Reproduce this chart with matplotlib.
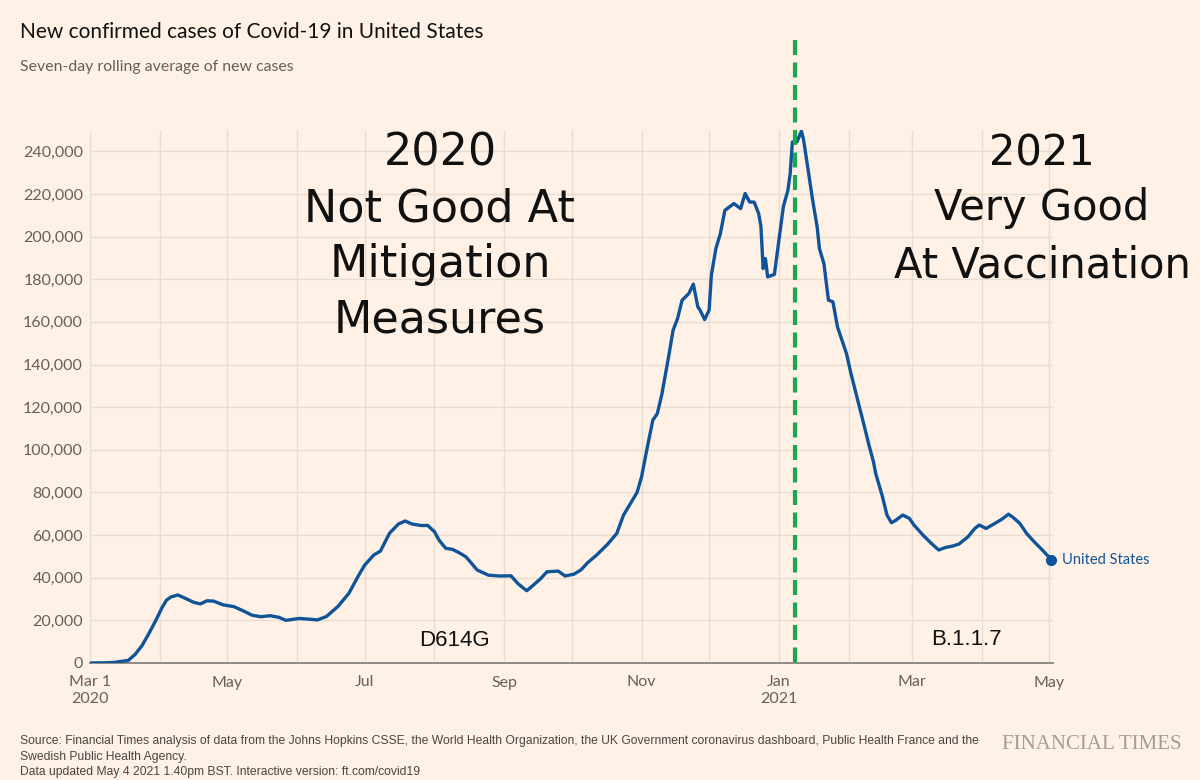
import matplotlib
matplotlib.use('Agg')
import matplotlib.pyplot as plt
import matplotlib.dates as mdates
import matplotlib.ticker as mticker
import pandas as pd

# ---------------- data ----------------
dates = [
    '2020-03-01', '2020-03-08', '2020-03-12', '2020-03-15', '2020-03-18', '2020-03-21',
    '2020-03-24', '2020-03-27', '2020-03-30', '2020-04-02', '2020-04-04', '2020-04-06',
    '2020-04-09', '2020-04-12', '2020-04-16', '2020-04-19', '2020-04-22', '2020-04-25',
    '2020-04-29', '2020-05-04', '2020-05-09', '2020-05-12', '2020-05-16', '2020-05-20',
    '2020-05-24', '2020-05-27', '2020-06-02', '2020-06-07', '2020-06-10', '2020-06-14',
    '2020-06-19', '2020-06-24', '2020-06-28', '2020-07-01', '2020-07-05', '2020-07-08',
    '2020-07-12', '2020-07-16', '2020-07-19', '2020-07-22', '2020-07-26', '2020-07-29',
    '2020-08-01', '2020-08-03', '2020-08-06', '2020-08-09', '2020-08-12', '2020-08-15',
    '2020-08-20', '2020-08-25', '2020-08-30', '2020-09-04', '2020-09-07', '2020-09-11',
    '2020-09-14', '2020-09-17', '2020-09-20', '2020-09-25', '2020-09-28', '2020-10-02',
    '2020-10-05', '2020-10-08', '2020-10-12', '2020-10-17', '2020-10-21', '2020-10-24',
    '2020-10-28', '2020-10-30', '2020-11-01', '2020-11-03', '2020-11-06', '2020-11-08',
    '2020-11-10', '2020-11-13', '2020-11-15', '2020-11-17', '2020-11-19', '2020-11-22',
    '2020-11-24', '2020-11-26', '2020-11-27', '2020-11-29', '2020-12-01', '2020-12-02',
    '2020-12-04', '2020-12-06', '2020-12-08', '2020-12-12', '2020-12-15', '2020-12-17',
    '2020-12-19', '2020-12-21', '2020-12-23', '2020-12-24', '2020-12-25', '2020-12-26',
    '2020-12-27', '2020-12-30', '2021-01-01', '2021-01-03', '2021-01-05', '2021-01-06',
    '2021-01-07', '2021-01-09', '2021-01-11', '2021-01-12', '2021-01-14', '2021-01-16',
    '2021-01-18', '2021-01-19', '2021-01-21', '2021-01-23', '2021-01-25', '2021-01-27',
    '2021-01-31', '2021-02-02', '2021-02-05', '2021-02-08', '2021-02-10', '2021-02-12',
    '2021-02-13', '2021-02-16', '2021-02-18', '2021-02-20', '2021-02-22', '2021-02-25',
    '2021-02-28', '2021-03-02', '2021-03-06', '2021-03-10', '2021-03-13', '2021-03-16',
    '2021-03-19', '2021-03-22', '2021-03-26', '2021-03-29', '2021-03-31', '2021-04-03',
    '2021-04-07', '2021-04-10', '2021-04-13', '2021-04-15', '2021-04-18', '2021-04-21',
    '2021-04-24', '2021-04-28', '2021-05-02',
]
cases = [
    0, 100, 300, 800, 1200, 4000,
    8000, 13500, 19500, 26000, 29500, 31000,
    31900, 30500, 28500, 27700, 29200, 29000,
    27300, 26400, 24000, 22400, 21700, 22200,
    21400, 20000, 20900, 20500, 20200, 21800,
    26400, 32700, 40500, 45900, 50600, 52500,
    60800, 65200, 66600, 65200, 64500, 64500,
    61600, 57700, 53800, 53300, 51700, 49800,
    43600, 41200, 40800, 40900, 37300, 33900,
    36600, 39400, 42800, 43100, 40800, 41700,
    43600, 47000, 50600, 55800, 60800, 69400,
    76500, 80000, 87300, 98300, 113900, 117000,
    126000, 143600, 156100, 161600, 170200, 173300,
    177700, 167000, 165500, 161100, 165500, 181900,
    194400, 201400, 212300, 215500, 213100, 220200,
    216200, 216200, 210800, 205000, 185000, 189700,
    181100, 182300, 198300, 214200, 221700, 229500,
    244400, 244400, 249500, 245200, 231100, 217000,
    204500, 194400, 187300, 170200, 169400, 157700,
    145200, 135800, 123300, 110800, 102200, 94400,
    88900, 78000, 69400, 65800, 67000, 69400,
    67800, 64700, 60000, 55800, 53000, 54200,
    54800, 55800, 59200, 63100, 64700, 63100,
    65500, 67400, 69800, 68300, 65500, 60800,
    57300, 53000, 48500,
]
series_name = 'United States'
marker_date = '2021-01-08'

tick_dates = ['2020-03-01', '2020-05-01', '2020-07-01', '2020-09-01', '2020-11-01',
              '2021-01-01', '2021-03-01', '2021-05-01']
tick_labels = ['Mar 1\n2020', 'May', 'Jul', 'Sep', 'Nov', 'Jan\n2021', 'Mar', 'May']
y_ticks = list(range(0, 240001, 20000))

title = 'New confirmed cases of Covid-19 in United States'
subtitle = 'Seven-day rolling average of new cases'
left_lines = ['2020', 'Not Good At', 'Mitigation', 'Measures']
right_lines = ['2021', 'Very Good', 'At Vaccination']
variant_left = 'D614G'
variant_right = 'B.1.1.7'
footer = ('Source: Financial Times analysis of data from the Johns Hopkins CSSE, the World Health '
          'Organization, the UK Government coronavirus dashboard, Public Health France and the\n'
          'Swedish Public Health Agency.\n'
          'Data updated May 4 2021 1.40pm BST. Interactive version: ft.com/covid19')
brand = 'FINANCIAL TIMES'

# ---------------- style ----------------
BG = '#FFF1E5'
GRID = '#E9DCD0'
TXT_GRAY = '#66605C'
BLUE = '#0F5499'
GREEN = '#1BA650'
W, H = 1200, 780

x = pd.to_datetime(dates)
fig = plt.figure(figsize=(12, 7.8), dpi=100, facecolor=BG)
ax = fig.add_axes([90 / W, 1 - 663 / H, (1053 - 90) / W, (663 - 130) / H])
ax.set_facecolor(BG)

ax.plot(x, cases, color=BLUE, lw=2.4, solid_joinstyle='round', zorder=3)
ax.plot(x[-1:], cases[-1:], 'o', color=BLUE, ms=7, zorder=4, clip_on=False)
ax.annotate(series_name, (x[-1], cases[-1]), xytext=(8, 0), textcoords='offset points',
            va='center', ha='left', color=BLUE, fontsize=10.5, family='Lato',
            annotation_clip=False)

ax.set_xlim(pd.Timestamp('2020-03-01'), pd.Timestamp('2021-05-02 18:00'))
ax.set_ylim(0, 250000)

ax.set_xticks(pd.to_datetime(tick_dates))
ax.set_xticklabels(tick_labels)
ax.xaxis.set_minor_locator(mdates.MonthLocator())
ax.set_yticks(y_ticks)
ax.yaxis.set_major_formatter(mticker.FuncFormatter(lambda v, p: f'{int(v):,}'))

ax.tick_params(axis='both', which='both', length=0, colors=TXT_GRAY, labelsize=11.5)
ax.tick_params(axis='x', pad=9)
ax.tick_params(axis='y', pad=5)
for lab in ax.get_xticklabels() + ax.get_yticklabels():
    lab.set_family('Lato')
    lab.set_color(TXT_GRAY)

ax.grid(True, which='both', axis='x', color=GRID, lw=1)
ax.grid(True, which='major', axis='y', color=GRID, lw=1)
ax.set_axisbelow(True)
for s in ['top', 'right', 'left']:
    ax.spines[s].set_visible(False)
ax.spines['bottom'].set_color('#8F8984')
ax.spines['bottom'].set_linewidth(1.4)

# green dashed marker line, drawn from the top down so the pattern starts with a dash
mdate = pd.Timestamp(marker_date)
ax.plot([mdate, mdate], [1.169, -0.013], transform=ax.get_xaxis_transform(),
        color=GREEN, lw=3, dashes=(3.6, 1.8), dash_capstyle='butt',
        clip_on=False, zorder=5)

# big annotations
def fx(px):
    return px / W

def fy(py):
    return 1 - py / H

for line, base in zip(left_lines, [165, 221, 277, 332]):
    fig.text(fx(440), fy(base), line, ha='center', va='baseline', fontsize=32,
             family='DejaVu Sans', color='#111111')
for line, base in zip(right_lines, [165, 220, 277]):
    fig.text(fx(1042), fy(base), line, ha='center', va='baseline', fontsize=30,
             family='DejaVu Sans', color='#111111')

fig.text(fx(454), fy(646), variant_left, ha='center', va='baseline', fontsize=16,
         family='Liberation Sans', color='#111111')
fig.text(fx(966), fy(645), variant_right, ha='center', va='baseline', fontsize=16,
         family='Liberation Sans', color='#111111')

fig.text(fx(20), fy(38), title, ha='left', va='baseline', fontsize=15,
         family='Lato', color='#111111')
fig.text(fx(20), fy(71), subtitle, ha='left', va='baseline', fontsize=11.4,
         family='Lato', color=TXT_GRAY)

fig.text(fx(20), fy(735), footer, ha='left', va='top', fontsize=8.7,
         family='Liberation Sans', color='#4A4542', linespacing=1.4)
fig.text(fx(1181), fy(749), brand, ha='right', va='baseline', fontsize=15,
         family='Liberation Serif', color='#A39E99')

fig.savefig('out.png', dpi=100, facecolor=BG)
